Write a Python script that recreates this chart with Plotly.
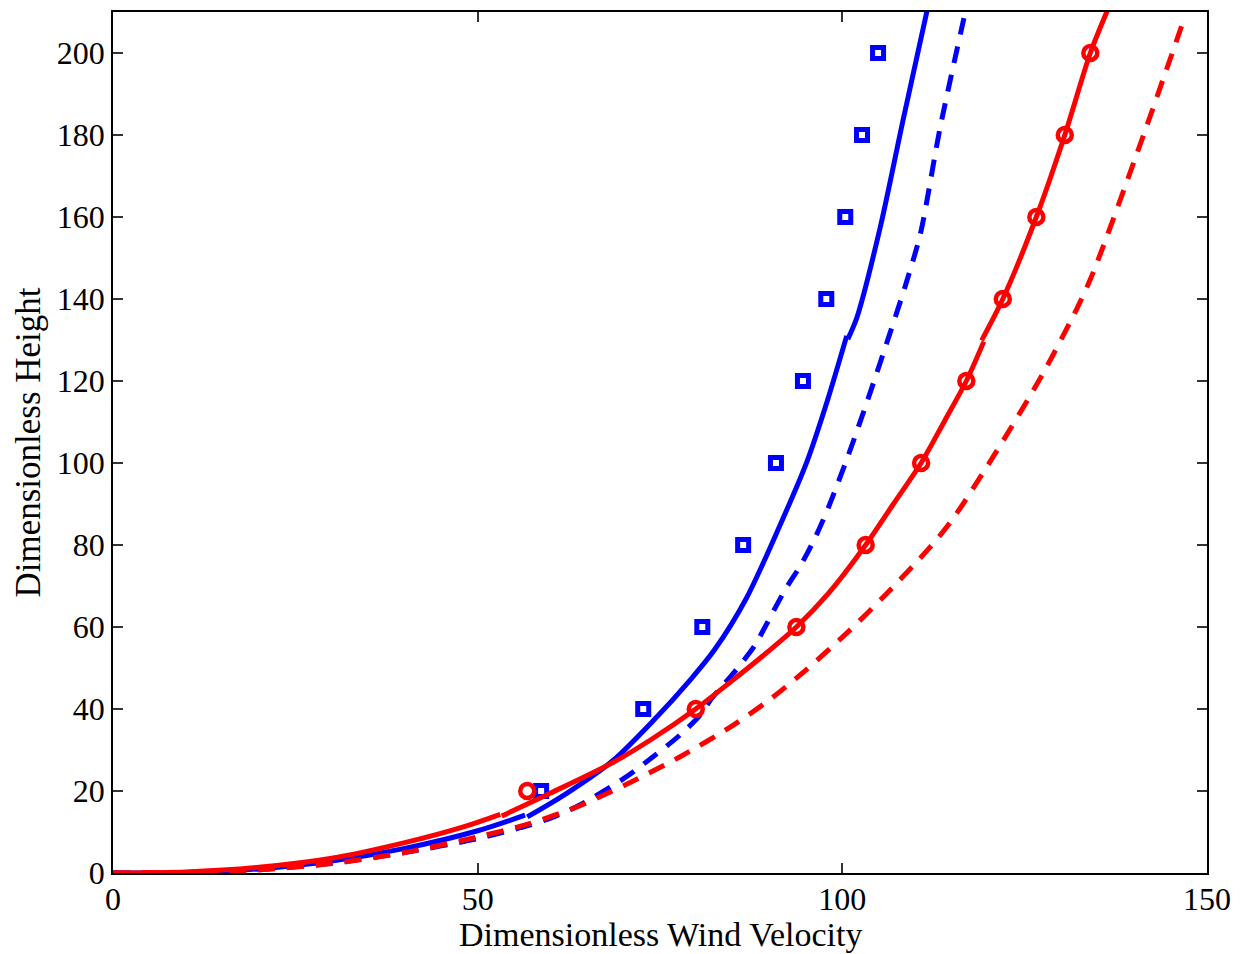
import plotly.graph_objects as go

# ---- data; None separates the piecewise segments ----
blue_solid_x = [0, 10, 20, 30, 40, 50, 56.5, None, 56.8, 62, 68.6, 74, 79.1, 82.5, 86.9, 91.5, 95.2, 98, 100.6, None, 100.75, 102, 105.2, 108.3, 111.6]
blue_solid_y = [0, 0.15, 1.0, 2.9, 6.0, 10.3, 14.1, None, 13.7, 19.2, 27.5, 37, 47, 54.5, 67.2, 85, 100.6, 115.5, 131.0, None, 130.2, 135.5, 157.5, 183.4, 210.2]

blue_dash_x = [0, 10, 20, 30, 40, 50, 57, 60, 64, 70, 74, 77.7, 80.5, 82.1, 85.2, 88, 89.4, 92.1, 94.4, 96.3, 98.1, 100.8, 103.5, 106.5, 108.6, 110.7, 113.4, 116.8]
blue_dash_y = [0, 0.1, 0.8, 2.4, 5.0, 8.4, 11.6, 13.4, 16.6, 23, 28.3, 33.6, 38.5, 42.6, 49, 55.5, 60, 68.9, 75.4, 81.9, 89.2, 101.8, 115.5, 131.5, 143, 155.9, 181.7, 209.5]

red_solid_x = [0, 10, 20, 30, 40, 48.5, 53.1, None, 53.3, 60, 68.6, 74, 79.9, 84.6, 89, 93.7, 98, 103.2, 107, 110.8, 114, 117.0, 119.4, None, 119.1, 122.0, 126.6, 130.5, 134.0, 136.3]
red_solid_y = [0, 0.25, 1.4, 3.6, 7.4, 11.5, 14.3, None, 13.9, 19.5, 27.0, 32.8, 40, 46.5, 52.8, 60, 68.0, 80, 90, 100, 110.2, 120, 129.6, None, 129.9, 140, 160, 180, 200, 210.2]

red_dash_x = [0, 10, 20, 30, 40, 50, 57, 63.6, 70, 77.7, 85, 90.5, 95, 100.6, 106, 112, 115, 121.2, 127.5, 132.2, 134.4, 140.8, 146.7]
red_dash_y = [0, 0.15, 0.8, 2.3, 5.0, 8.8, 12, 16.1, 21.3, 28.3, 36.0, 42.9, 49.5, 58.5, 68.0, 79.4, 86.0, 103, 121.8, 137.8, 146.5, 177.5, 207.5]

sq_x = [58.7, 72.7, 80.8, 86.4, 90.9, 94.6, 97.8, 100.4, 102.7, 104.9]
sq_y = [20, 40, 60, 80, 100, 120, 140, 160, 180, 200]

circ_x = [56.8, 79.9, 93.7, 103.2, 110.8, 117.0, 122.0, 126.6, 130.5, 134.0]
circ_y = [20, 40, 60, 80, 100, 120, 140, 160, 180, 200]

x_ticks = [0, 50, 100, 150]
y_ticks = [0, 20, 40, 60, 80, 100, 120, 140, 160, 180, 200]

x_title = "Dimensionless Wind Velocity"
y_title = "Dimensionless Height"

BLUE = "#0000FF"
RED = "#FF0000"
LW = 5
DASH = "17px,12px"
SM = 0.8

fig = go.Figure()
fig.add_trace(go.Scatter(x=blue_solid_x, y=blue_solid_y, mode="lines", connectgaps=False,
                         line=dict(color=BLUE, width=LW, shape="spline", smoothing=SM), showlegend=False))
fig.add_trace(go.Scatter(x=blue_dash_x, y=blue_dash_y, mode="lines",
                         line=dict(color=BLUE, width=LW, dash=DASH, shape="spline", smoothing=SM), showlegend=False))
fig.add_trace(go.Scatter(x=sq_x, y=sq_y, mode="markers",
                         marker=dict(symbol="square-open", size=11, color=BLUE,
                                     line=dict(color=BLUE, width=5)), showlegend=False))
fig.add_trace(go.Scatter(x=red_solid_x, y=red_solid_y, mode="lines", connectgaps=False,
                         line=dict(color=RED, width=LW, shape="spline", smoothing=SM), showlegend=False))
fig.add_trace(go.Scatter(x=red_dash_x, y=red_dash_y, mode="lines",
                         line=dict(color=RED, width=LW, dash=DASH, shape="spline", smoothing=SM), showlegend=False))
fig.add_trace(go.Scatter(x=circ_x, y=circ_y, mode="markers",
                         marker=dict(symbol="circle-open", size=14, color=RED,
                                     line=dict(color=RED, width=4.5)), showlegend=False))

FONT = "Liberation Serif, Times New Roman, serif"
axis_common = dict(
    showline=True, linecolor="black", linewidth=1.5, mirror="ticks",
    ticks="inside", ticklen=10, tickwidth=1.5, tickcolor="#333333",
    showgrid=False, zeroline=False,
    tickfont=dict(family=FONT, size=32, color="black"),
)
fig.update_xaxes(range=[0, 150], tickvals=x_ticks, ticktext=[str(v) for v in x_ticks],
                 ticklabelstandoff=-3, **axis_common)
fig.update_yaxes(range=[0, 210], tickvals=y_ticks, ticktext=[str(v) for v in y_ticks],
                 title=dict(text=y_title, font=dict(family=FONT, size=35, color="black"),
                            standoff=6),
                 **axis_common)
fig.add_annotation(text=x_title, xref="paper", yref="paper", x=0.5, y=-0.0715,
                   xanchor="center", yanchor="middle", showarrow=False,
                   font=dict(family=FONT, size=34, color="black"))
fig.update_layout(
    width=1249, height=954,
    margin=dict(l=113, r=42, t=12, b=81, autoexpand=False),
    paper_bgcolor="white", plot_bgcolor="white",
    showlegend=False,
)
fig.write_html("out.html")
